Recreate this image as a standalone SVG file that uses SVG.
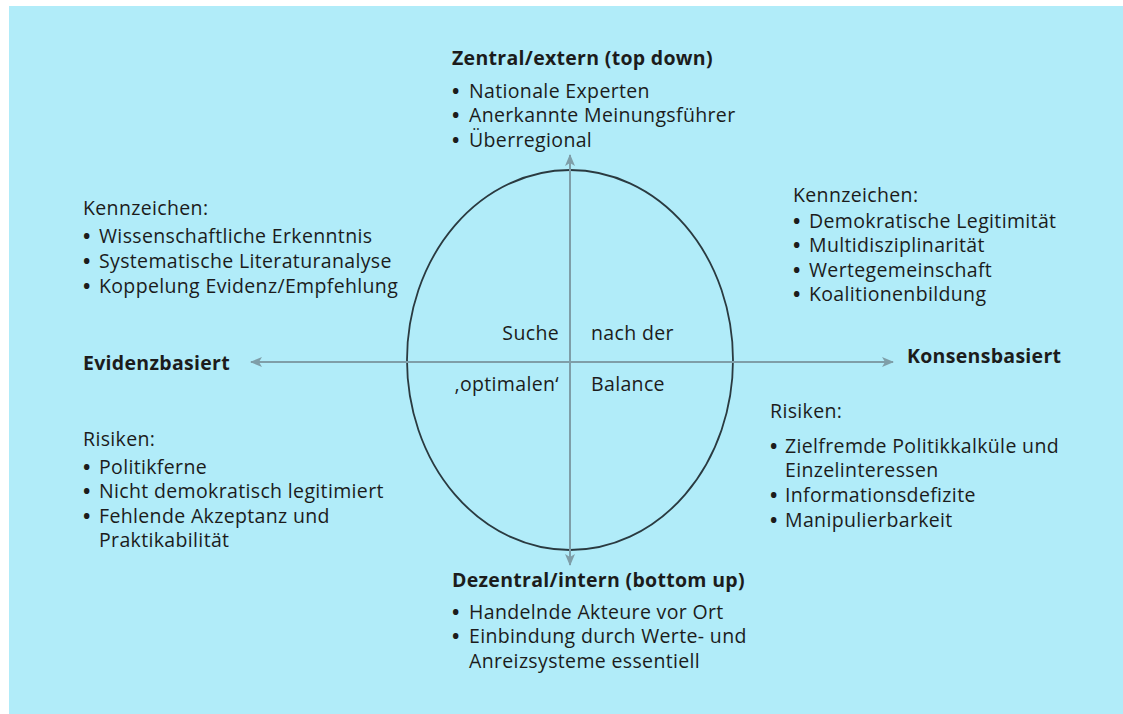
<svg xmlns="http://www.w3.org/2000/svg" width="1123" height="714" viewBox="0 0 1123 714">
<style>
text{font-family:"Open Sans","Noto Sans",sans-serif;font-size:19.5px;letter-spacing:0.35px;fill:#1c1c1c}
.b{font-weight:bold;letter-spacing:0.3px}
.bu{font-weight:bold}
.ax{stroke:#7f9ea8;stroke-width:2;fill:none}
</style>
<defs>
<marker id="ah" viewBox="0 0 12 10" refX="11" refY="5" markerWidth="12" markerHeight="10" markerUnits="userSpaceOnUse" orient="auto">
<path d="M0,0 L12,5 L0,10 L3,5 Z" fill="#7f9ea8"/>
</marker>
</defs>
<rect x="0" y="0" width="1123" height="714" fill="#ffffff"/>
<rect x="9" y="6" width="1114" height="708" fill="#b1ecf9"/>
<g id="connectors">
<ellipse cx="570" cy="360" rx="163" ry="190" fill="none" stroke="#2a3a40" stroke-width="1.8"/>
<line class="ax" x1="570" y1="362" x2="251" y2="362" marker-end="url(#ah)"/>
<line class="ax" x1="570" y1="362" x2="893" y2="362" marker-end="url(#ah)"/>
<line class="ax" x1="570" y1="362" x2="570" y2="155" marker-end="url(#ah)"/>
<line class="ax" x1="570" y1="362" x2="570" y2="565" marker-end="url(#ah)"/>
</g>
<g id="top">
<text class="b" x="452" y="65">Zentral/extern (top down)</text>
<text x="452" y="98"><tspan class="bu">•</tspan><tspan x="469">Nationale Experten</tspan></text>
<text x="452" y="122"><tspan class="bu">•</tspan><tspan x="469">Anerkannte Meinungsführer</tspan></text>
<text x="452" y="147"><tspan class="bu">•</tspan><tspan x="469">Überregional</tspan></text>
</g>
<g id="left-top">
<text x="83" y="215">Kennzeichen:</text>
<text x="83" y="243"><tspan class="bu">•</tspan><tspan x="99">Wissenschaftliche Erkenntnis</tspan></text>
<text x="83" y="268"><tspan class="bu">•</tspan><tspan x="99">Systematische Literaturanalyse</tspan></text>
<text x="83" y="293"><tspan class="bu">•</tspan><tspan x="99">Koppelung Evidenz/Empfehlung</tspan></text>
</g>
<g id="right-top">
<text x="793" y="202">Kennzeichen:</text>
<text x="793" y="228"><tspan class="bu">•</tspan><tspan x="809">Demokratische Legitimität</tspan></text>
<text x="793" y="252"><tspan class="bu">•</tspan><tspan x="809">Multidisziplinarität</tspan></text>
<text x="793" y="277"><tspan class="bu">•</tspan><tspan x="809">Wertegemeinschaft</tspan></text>
<text x="793" y="301"><tspan class="bu">•</tspan><tspan x="809">Koalitionenbildung</tspan></text>
</g>
<g id="left">
<text class="b" x="83" y="370">Evidenzbasiert</text>
</g>
<g id="right">
<text class="b" x="907" y="363">Konsensbasiert</text>
</g>
<g id="center">
<text x="559" y="340" text-anchor="end">Suche</text>
<text x="591" y="340">nach der</text>
<text x="559" y="391" text-anchor="end">‚optimalen‘</text>
<text x="591" y="391">Balance</text>
</g>
<g id="left-bottom">
<text x="83" y="446">Risiken:</text>
<text x="83" y="474"><tspan class="bu">•</tspan><tspan x="99">Politikferne</tspan></text>
<text x="83" y="498"><tspan class="bu">•</tspan><tspan x="99">Nicht demokratisch legitimiert</tspan></text>
<text x="83" y="523"><tspan class="bu">•</tspan><tspan x="99">Fehlende Akzeptanz und</tspan></text>
<text x="99" y="547">Praktikabilität</text>
</g>
<g id="right-bottom">
<text x="770" y="418">Risiken:</text>
<text x="770" y="453"><tspan class="bu">•</tspan><tspan x="785">Zielfremde Politikkalküle und</tspan></text>
<text x="785" y="477">Einzelinteressen</text>
<text x="770" y="502"><tspan class="bu">•</tspan><tspan x="785">Informationsdefizite</tspan></text>
<text x="770" y="527"><tspan class="bu">•</tspan><tspan x="785">Manipulierbarkeit</tspan></text>
</g>
<g id="bottom">
<text class="b" x="452" y="587">Dezentral/intern (bottom up)</text>
<text x="452" y="619"><tspan class="bu">•</tspan><tspan x="469">Handelnde Akteure vor Ort</tspan></text>
<text x="452" y="643"><tspan class="bu">•</tspan><tspan x="469">Einbindung durch Werte- und</tspan></text>
<text x="469" y="668">Anreizsysteme essentiell</text>
</g>
</svg>
